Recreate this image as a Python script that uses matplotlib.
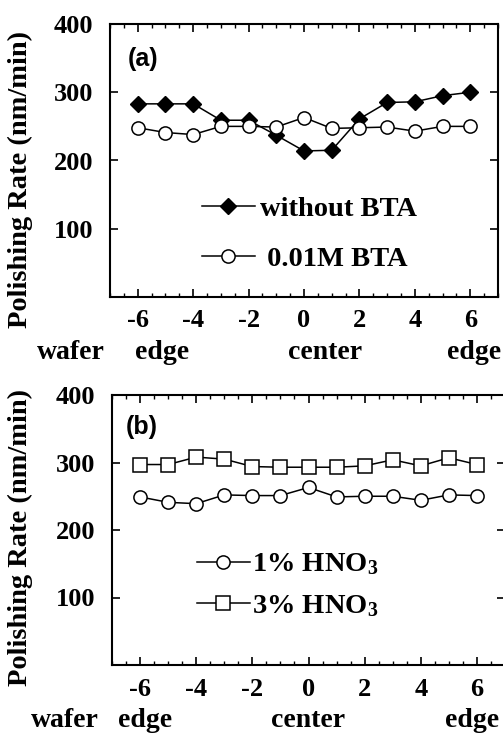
import matplotlib
matplotlib.use("Agg")
import matplotlib.pyplot as plt
from matplotlib.ticker import MultipleLocator

plt.rcParams['font.family'] = ['Liberation Serif', 'DejaVu Serif']
plt.rcParams['font.weight'] = 'bold'
plt.rcParams['mathtext.fontset'] = 'custom'
plt.rcParams['mathtext.rm'] = 'Liberation Serif:bold'
plt.rcParams['mathtext.it'] = 'Liberation Serif:bold'
plt.rcParams['mathtext.bf'] = 'Liberation Serif:bold'

# ---- data ----
position = [-6, -5, -4, -3, -2, -1, 0, 1, 2, 3, 4, 5, 6]
without_bta = [283, 283, 283, 259, 259, 237, 214, 215, 261, 285, 286, 295, 300]
bta_001m = [248, 241, 238, 250, 250, 249, 263, 247, 248, 249, 243, 250, 250]
hno3_1pct = [249, 241, 239, 252, 251, 251, 263, 249, 250, 250, 244, 252, 251]
hno3_3pct = [297, 297, 308, 305, 294, 293, 293, 293, 295, 304, 295, 307, 297]

xticks = [-6, -4, -2, 0, 2, 4, 6]
yticks = [100, 200, 300, 400]
region_labels = ["wafer", "edge", "center", "edge"]
ylabel = "Polishing Rate (nm/min)"

W, H = 503, 735
fig = plt.figure(figsize=(W / 100, H / 100), dpi=100)

def style_axes(ax):
    ax.set_xlim(-7, 7)
    ax.set_ylim(0, 400)
    ax.set_xticks(xticks)
    ax.set_xticklabels([str(t) for t in xticks])
    ax.xaxis.set_minor_locator(MultipleLocator(0.5))
    ax.set_yticks(yticks)
    ax.set_yticklabels([str(t) for t in yticks])
    ax.tick_params(axis='x', which='major', direction='in', top=True, bottom=True,
                   length=5.5, width=1.2, labelsize=19, pad=9)
    ax.tick_params(axis='x', which='minor', direction='in', top=True, bottom=True,
                   length=3, width=1.0)
    ax.tick_params(axis='y', which='major', direction='in', left=True, right=True,
                   length=5.5, width=1.2, labelsize=19, pad=12)
    for lab in ax.get_xticklabels() + ax.get_yticklabels():
        lab.set_fontweight('bold')
    for s in ax.spines.values():
        s.set_linewidth(1.5)
    ax.set_ylabel(ylabel, fontsize=20.5, fontweight='bold')

# ---- panel (a) ----
ax1 = fig.add_axes([110 / W, 1 - 297 / H, 388 / W, 273 / H])
ax1.plot(position, without_bta, '-', color='black', lw=1.1, marker='D',
         ms=8, mfc='black', mec='black', label='without BTA')
ax1.plot(position, bta_001m, '-', color='black', lw=1.1, marker='o',
         ms=9.5, mfc='white', mec='black', mew=1.1, label=' 0.01M BTA')
style_axes(ax1)
ax1.yaxis.set_label_coords(-0.198, 0.43)
ax1.text(0.047, 0.87, "(a)", transform=ax1.transAxes,
         family='Liberation Sans', fontweight='bold', fontsize=18, va='center', ha='left')
ax1.legend(loc='upper left', bbox_to_anchor=(0.237, 0.37), frameon=False,
           handlelength=1.85, handletextpad=0.2, labelspacing=0.85,
           borderpad=0, borderaxespad=0, prop={'weight': 'bold', 'size': 20.5})
pos_a = [-8.4, -5.13, 0.77, 6.13]
for lab, x in zip(region_labels, pos_a):
    ax1.text(x, -0.228, lab, transform=ax1.get_xaxis_transform(), ha='center',
             va='baseline', fontsize=20, fontweight='bold', clip_on=False)

# ---- panel (b) ----
ax2 = fig.add_axes([112 / W, 1 - 665 / H, 393 / W, 270 / H])
ax2.plot(position, hno3_1pct, '-', color='black', lw=1.1, marker='o',
         ms=9.5, mfc='white', mec='black', mew=1.1, label=r'1% HNO$_3$')
ax2.plot(position, hno3_3pct, '-', color='black', lw=1.1, marker='s',
         ms=9.5, mfc='white', mec='black', mew=1.1, label=r'3% HNO$_3$')
style_axes(ax2)
ax2.yaxis.set_label_coords(-0.201, 0.474)
ax2.text(0.035, 0.88, "(b)", transform=ax2.transAxes,
         family='Liberation Sans', fontweight='bold', fontsize=18, va='center', ha='left')
ax2.legend(loc='upper left', bbox_to_anchor=(0.216, 0.42), frameon=False,
           handlelength=1.85, handletextpad=0.1, labelspacing=0.55,
           borderpad=0, borderaxespad=0, prop={'weight': 'bold', 'size': 20.5})
pos_b = [-8.68, -5.82, -0.03, 5.82]
for lab, x in zip(region_labels, pos_b):
    ax2.text(x, -0.23, lab, transform=ax2.get_xaxis_transform(), ha='center',
             va='baseline', fontsize=20, fontweight='bold', clip_on=False)

fig.savefig("out.png", dpi=100)
